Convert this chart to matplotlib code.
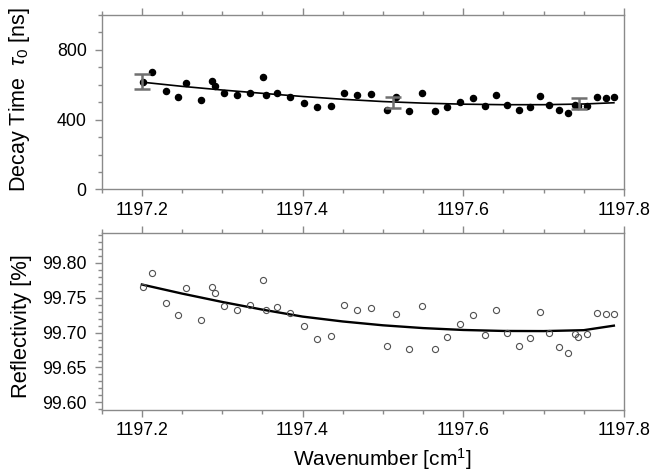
import numpy as np
import matplotlib
matplotlib.use('Agg')
from matplotlib import pyplot as plt
from matplotlib.ticker import MultipleLocator, FormatStrFormatter

plt.rcParams['font.family'] = ['Liberation Sans', 'DejaVu Sans']
plt.rcParams['mathtext.fontset'] = 'custom'
plt.rcParams['mathtext.rm'] = 'Liberation Sans'
plt.rcParams['mathtext.it'] = 'Liberation Sans:italic'

# wavenumber of each measurement [cm-1]
wavenumber = [1197.201, 1197.212, 1197.230, 1197.245, 1197.255, 1197.274, 1197.2875,
              1197.291, 1197.3025, 1197.319, 1197.335, 1197.351, 1197.355, 1197.368,
              1197.385, 1197.402, 1197.418, 1197.435, 1197.452, 1197.468, 1197.485,
              1197.505, 1197.516, 1197.533, 1197.549, 1197.565, 1197.580, 1197.596,
              1197.612, 1197.627, 1197.641, 1197.655, 1197.670, 1197.683, 1197.695,
              1197.707, 1197.719, 1197.730, 1197.7396, 1197.7425, 1197.754, 1197.766,
              1197.7775, 1197.7875]

# decay time tau0 [ns]
decay_time = [615, 672, 562, 528, 611, 514, 619, 594, 552, 541, 554, 642, 539, 551,
              530, 497, 469, 476, 554, 539, 549, 456, 530, 450, 552, 448, 474, 503,
              526, 476, 539, 482, 455, 470, 533, 482, 453, 440, 482, 475, 478, 531,
              526, 530]

# reflectivity [%]
reflectivity = [99.765, 99.786, 99.742, 99.725, 99.764, 99.718, 99.766, 99.757, 99.738,
                99.733, 99.739, 99.775, 99.733, 99.737, 99.728, 99.709, 99.691, 99.695,
                99.739, 99.733, 99.736, 99.681, 99.727, 99.677, 99.738, 99.676, 99.693,
                99.712, 99.725, 99.696, 99.732, 99.699, 99.681, 99.692, 99.729, 99.699,
                99.680, 99.671, 99.698, 99.693, 99.698, 99.728, 99.726, 99.727]

# fitted curves
fit_x = [1197.2, 1197.25, 1197.3, 1197.35, 1197.4, 1197.45, 1197.5, 1197.55,
         1197.6, 1197.65, 1197.7, 1197.75, 1197.7875]
fit_tau = [614, 590, 569, 550, 532, 516, 503, 494, 488, 485, 485, 489, 496]
fit_refl = [99.769, 99.756, 99.744, 99.733, 99.723, 99.716, 99.7105, 99.7065,
            99.7038, 99.7024, 99.7022, 99.7035, 99.7100]

# representative error bars
err_x = [1197.2, 1197.513, 1197.744]
err_y = [620, 498, 492]
err_size = [43, 32, 32]

spine_col = '#8a8a8a'

fig = plt.figure(figsize=(6.54, 4.73), dpi=100)
ax1 = fig.add_axes([0.1555, 0.5994, 0.7985, 0.3696])
ax2 = fig.add_axes([0.1555, 0.1332, 0.7985, 0.3736])

ax1.plot(fit_x, fit_tau, color='black', lw=1.2, zorder=2)
ax1.plot(wavenumber, decay_time, 'o', color='black', ms=4.4, zorder=3)
ax1.errorbar(err_x, err_y, yerr=err_size, fmt='none', ecolor='#707070',
             elinewidth=1.8, capsize=6, capthick=1.8, zorder=4)

ax2.plot(fit_x, fit_refl, color='black', lw=1.7, zorder=2)
ax2.plot(wavenumber, reflectivity, 'o', mfc='none', mec='#505050', mew=0.8,
         ms=4.4, zorder=3)

ax1.set_ylim(0, 1000)
ax1.yaxis.set_major_locator(MultipleLocator(400))
ax1.yaxis.set_minor_locator(MultipleLocator(100))
ax2.set_ylim(99.589, 99.8425)
ax2.yaxis.set_major_locator(MultipleLocator(0.05))
ax2.yaxis.set_minor_locator(MultipleLocator(0.01))
ax2.yaxis.set_major_formatter(FormatStrFormatter('%.2f'))

for ax in (ax1, ax2):
    ax.set_xlim(1197.15, 1197.8)
    ax.xaxis.set_major_locator(MultipleLocator(0.2))
    ax.xaxis.set_minor_locator(MultipleLocator(0.05))
    ax.xaxis.set_major_formatter(FormatStrFormatter('%.1f'))
    for s in ax.spines.values():
        s.set_color(spine_col)
        s.set_linewidth(1.0)
    ax.tick_params(which='both', direction='out', color=spine_col, width=1.0,
                   top=True, right=False, labelsize=12.8)
    ax.tick_params(which='major', length=4.8)
    ax.tick_params(which='minor', length=3)
    ax.tick_params(axis='y', pad=6)
    ax.tick_params(axis='x', pad=4)

ax1.set_ylabel(r'Decay Time  $\tau_{\mathrm{0}}$ [ns]', fontsize=15.5)
ax1.yaxis.set_label_coords(-0.1334, 0.516)
ax2.set_ylabel('Reflectivity [%]', fontsize=15.8)
ax2.yaxis.set_label_coords(-0.1334, 0.476)
ax2.set_xlabel(r'Wavenumber [cm$^{\mathrm{1}}$]', fontsize=15)
ax2.xaxis.set_label_coords(0.5376, -0.205)

fig.savefig('out.png', dpi=100)
